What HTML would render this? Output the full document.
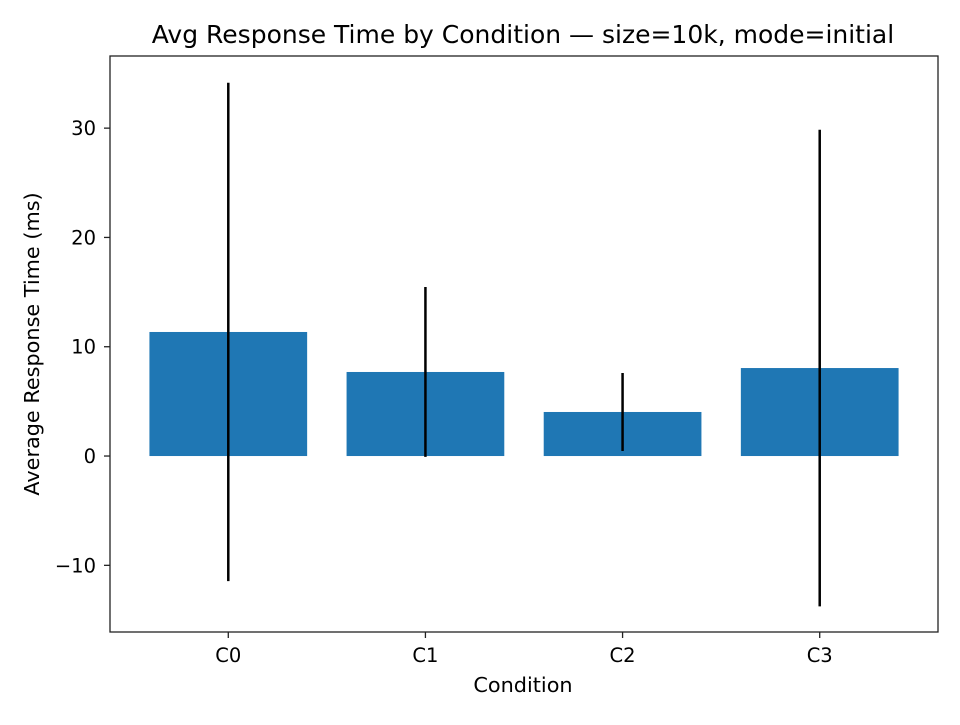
<!DOCTYPE html>
<html><head><meta charset="utf-8"><style>
html,body{margin:0;padding:0;background:#fff;}
svg text{font-family:"DejaVu Sans","Liberation Sans",sans-serif;fill:#000;}
</style></head><body>
<svg id="chart" width="960" height="720" viewBox="0 0 960 720" xmlns="http://www.w3.org/2000/svg">
<rect width="960" height="720" fill="#fff"/>
<text x="523" y="43" font-size="25" text-anchor="middle">Avg Response Time by Condition — size=10k, mode=initial</text>
<g id="plot"></g>
<rect x="110" y="56" width="828" height="576" fill="none" stroke="#222" stroke-width="1.3"/>
<text x="523" y="692" font-size="20.8" text-anchor="middle">Condition</text>
<text transform="translate(39,344) rotate(-90)" font-size="20.8" text-anchor="middle">Average Response Time (ms)</text>
</svg>
<script>
const categories = ["C0","C1","C2","C3"];
const means = [11.35, 7.69, 4.03, 8.05];
const errors = [22.8, 7.77, 3.57, 21.8];
const yTicks = [-10, 0, 10, 20, 30];

const L=110,R=938,T=56,B=632;
const yMin=-16.1,yMax=36.6,xMin=-0.6,xMax=3.6;
const ns="http://www.w3.org/2000/svg";
function y(v){return B-(v-yMin)/(yMax-yMin)*(B-T);}
function x(i){return L+(i-xMin)/(xMax-xMin)*(R-L);}
const g=document.getElementById('plot');
function mk(tag,attrs){const e=document.createElementNS(ns,tag);for(const k in attrs)e.setAttribute(k,attrs[k]);g.appendChild(e);return e;}
const bw=0.8*(R-L)/(xMax-xMin);
categories.forEach((c,i)=>{
  const b=mk('rect',{x:x(i)-bw/2,y:Math.min(y(means[i]),y(0)),width:bw,height:Math.abs(y(0)-y(means[i])),fill:'#1f77b4'});
  
  
  const e=mk('line',{x1:x(i),x2:x(i),y1:y(means[i]+errors[i]),y2:y(means[i]-errors[i]),stroke:'#000','stroke-width':2.5});
  
  
  const t=mk('line',{x1:x(i),x2:x(i),y1:B,y2:B+6,stroke:'#222','stroke-width':1.3});
  
  
  const l=mk('text',{x:x(i),y:B+30,'font-size':19.5,'text-anchor':'middle'});
  l.textContent=c;
  
  
});
yTicks.forEach(v=>{
  const t=mk('line',{x1:L-6,x2:L,y1:y(v),y2:y(v),stroke:'#222','stroke-width':1.3});
  
  
  const l=mk('text',{x:L-14,y:y(v)+7,'font-size':19.5,'text-anchor':'end'});
  l.textContent=v<0?'\u2212'+Math.abs(v):String(v);
  
  
});
</script>
</body></html>
